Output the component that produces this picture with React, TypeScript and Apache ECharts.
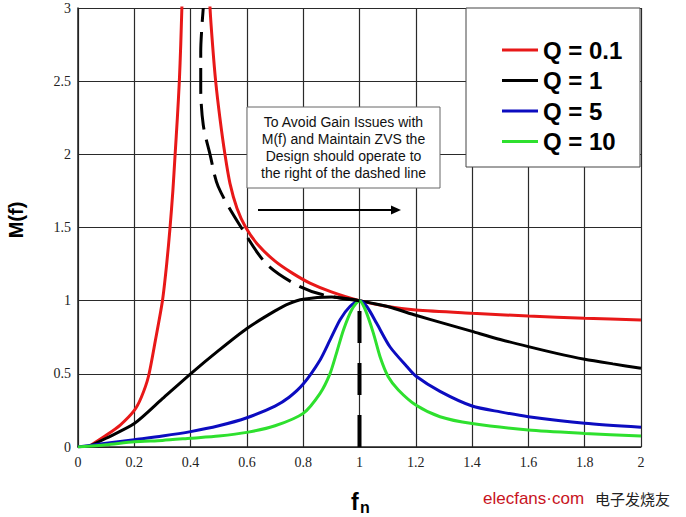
import React, { useEffect, useRef } from "react";
import * as echarts from "echarts";

// x tick labels (fn) and y tick labels (M(f))
const xTicks = [0, 0.2, 0.4, 0.6, 0.8, 1, 1.2, 1.4, 1.6, 1.8, 2];
const yTicks = [0, 0.5, 1, 1.5, 2, 2.5, 3];

const seriesNames = ["Q = 0.1", "Q = 1", "Q = 5", "Q = 10"];

// [fn, M(f)]
const q01: number[][] = [
  [0.04, 0.005], [0.1, 0.08], [0.15, 0.15], [0.2, 0.25], [0.225, 0.34], [0.25, 0.48],
  [0.275, 0.73], [0.3, 1.0], [0.315, 1.25], [0.327, 1.5], [0.337, 1.75], [0.345, 2.0],
  [0.353, 2.25], [0.36, 2.5], [0.365, 2.75], [0.369, 3.0], [0.38, 3.6], [0.455, 3.6],
  [0.469, 3.0], [0.478, 2.75], [0.489, 2.5], [0.504, 2.25], [0.522, 2.0], [0.54, 1.8],
  [0.565, 1.63], [0.596, 1.5], [0.64, 1.38], [0.7, 1.27], [0.76, 1.19], [0.824, 1.12],
  [0.9, 1.06], [1.0, 1.0], [1.1, 0.96], [1.2, 0.936], [1.4, 0.914], [1.6, 0.895],
  [1.8, 0.88], [2.0, 0.868],
];
const q1: number[][] = [
  [0.04, 0.005], [0.1, 0.06], [0.2, 0.16], [0.3, 0.33], [0.4, 0.5], [0.5, 0.66],
  [0.6, 0.81], [0.7, 0.93], [0.75, 0.98], [0.8, 1.01], [0.9, 1.025], [0.95, 1.015],
  [1.0, 1.0], [1.1, 0.96], [1.2, 0.9], [1.3, 0.845], [1.4, 0.79], [1.5, 0.735],
  [1.6, 0.686], [1.7, 0.64], [1.8, 0.6], [1.9, 0.568], [2.0, 0.538],
];
const q5: number[][] = [
  [0, 0], [0.1, 0.025], [0.2, 0.05], [0.3, 0.075], [0.4, 0.105], [0.5, 0.145],
  [0.6, 0.2], [0.7, 0.28], [0.75, 0.34], [0.8, 0.43], [0.86, 0.595], [0.895, 0.73],
  [0.931, 0.87], [0.966, 0.96], [1.0, 1.0], [1.026, 0.96], [1.061, 0.845], [1.108, 0.685],
  [1.168, 0.55], [1.2, 0.485], [1.286, 0.38], [1.4, 0.28], [1.5, 0.24], [1.6, 0.207],
  [1.8, 0.162], [2.0, 0.135],
];
const q10: number[][] = [
  [0, 0], [0.1, 0.015], [0.2, 0.036], [0.3, 0.045], [0.4, 0.06], [0.5, 0.075],
  [0.6, 0.1], [0.7, 0.145], [0.8, 0.23], [0.86, 0.367], [0.895, 0.5], [0.918, 0.64],
  [0.943, 0.8], [0.973, 0.94], [1.0, 1.0], [1.02, 0.94], [1.049, 0.78], [1.073, 0.617],
  [1.102, 0.48], [1.138, 0.39], [1.2, 0.287], [1.286, 0.207], [1.4, 0.16], [1.6, 0.116],
  [1.8, 0.093], [2.0, 0.075],
];
// dashed boundary curve (peak locus) and vertical dashed line at fn = 1
const boundary: number[][] = [
  [1.0, 1.0], [0.87, 1.04], [0.777, 1.107], [0.67, 1.25], [0.58, 1.5], [0.498, 1.78],
  [0.469, 2.0], [0.445, 2.2], [0.436, 2.45], [0.436, 2.7], [0.445, 3.0],
];
const fnOne: number[][] = [[1, 0], [1, 1]];

const colors = ["#e81818", "#000000", "#0c0cc0", "#2ee02e"];

const annotation = [
  "To Avoid Gain Issues with",
  "M(f) and Maintain ZVS the",
  "Design should operate to",
  "the right of the dashed line",
];

export default function App() {
  const ref = useRef<HTMLDivElement>(null);
  useEffect(() => {
    if (!ref.current) return;
    const chart = echarts.init(ref.current, undefined, { renderer: "svg" });
    const curveData = [q01, q1, q5, q10];
    const tickFont = {
      fontFamily: "Liberation Serif",
      fontSize: 14,
      color: "#222",
    };
    chart.setOption({
      animation: false,
      backgroundColor: "#ffffff",
      grid: { left: 78, right: 45, top: 8, bottom: 70 },
      xAxis: {
        type: "value",
        min: xTicks[0],
        max: xTicks[xTicks.length - 1],
        interval: 0.2,
        axisLine: { show: true, lineStyle: { color: "#222", width: 1.5 } },
        axisTick: { show: false },
        axisLabel: { ...tickFont, margin: 8 },
        splitLine: { show: true, lineStyle: { color: "#2a2a2a", width: 1.2 } },
      },
      yAxis: {
        type: "value",
        min: yTicks[0],
        max: yTicks[yTicks.length - 1],
        interval: 0.5,
        axisLine: { show: true, lineStyle: { color: "#222", width: 1.5 } },
        axisTick: { show: false },
        axisLabel: { ...tickFont, margin: 7 },
        splitLine: { show: true, lineStyle: { color: "#2a2a2a", width: 1.2 } },
      },
      legend: {
        orient: "vertical",
        left: 502,
        top: 38,
        padding: 0,
        itemWidth: 36,
        itemHeight: 3,
        itemGap: 6.5,
        icon: "rect",
        z: 10,
        textStyle: {
          fontFamily: "Liberation Sans",
          fontWeight: "bold",
          fontSize: 24,
          color: "#000",
        },
        data: seriesNames,
      },
      series: [
        ...curveData.map((d, i) => ({
          name: seriesNames[i],
          type: "line",
          data: d,
          showSymbol: false,
          symbol: "none",
          clip: true,
          smooth: 0.25,
          color: colors[i],
          itemStyle: { color: colors[i] },
          lineStyle: { color: colors[i], width: 3 },
          z: 3,
        })),
        {
          name: "boundary",
          type: "line",
          data: boundary,
          showSymbol: false,
          symbol: "none",
          clip: true,
          smooth: 0.3,
          lineStyle: { color: "#000", width: 3, type: [26, 10] },
          z: 4,
        },
        {
          name: "fn1",
          type: "line",
          data: fnOne,
          showSymbol: false,
          symbol: "none",
          lineStyle: { color: "#000", width: 4, type: [32, 20] },
          z: 4,
        },
      ],
      graphic: [
        {
          type: "rect",
          z: 5,
          shape: { x: 466, y: 8, width: 174, height: 159 },
          style: { fill: "#ffffff", stroke: "#444", lineWidth: 1 },
        },
        {
          type: "rect",
          z: 5,
          shape: { x: 247, y: 107, width: 193, height: 81 },
          style: { fill: "#ffffff", stroke: "#666", lineWidth: 1 },
        },
        {
          type: "text",
          z: 6,
          x: 343.5,
          y: 147.5,
          style: {
            text: annotation.join("\n"),
            fontFamily: "Liberation Sans",
            fontSize: 14,
            lineHeight: 17,
            fill: "#111",
            textAlign: "center",
            textVerticalAlign: "middle",
          },
        },
        {
          type: "line",
          z: 6,
          shape: { x1: 258, y1: 210, x2: 394, y2: 210 },
          style: { stroke: "#000", lineWidth: 2 },
        },
        {
          type: "polygon",
          z: 6,
          shape: { points: [[391, 205.5], [401, 210], [391, 214.5]] },
          style: { fill: "#000" },
        },
        {
          type: "text",
          z: 6,
          x: 15.5,
          y: 220,
          rotation: Math.PI / 2,
          style: {
            text: "M(f)",
            fontFamily: "Liberation Sans",
            fontWeight: "bold",
            fontSize: 20,
            fill: "#000",
            textAlign: "center",
            textVerticalAlign: "middle",
          },
        },
        {
          type: "text",
          z: 6,
          x: 351,
          y: 502,
          style: {
            text: "f",
            fontFamily: "Liberation Sans",
            fontWeight: "bold",
            fontSize: 23,
            fill: "#000",
            textAlign: "left",
            textVerticalAlign: "middle",
          },
        },
        {
          type: "text",
          z: 6,
          x: 360,
          y: 507,
          style: {
            text: "n",
            fontFamily: "Liberation Sans",
            fontWeight: "bold",
            fontSize: 16,
            fill: "#000",
            textAlign: "left",
            textVerticalAlign: "middle",
          },
        },
        {
          type: "text",
          z: 6,
          x: 483,
          y: 498,
          style: {
            text: "elecfans·com",
            fontFamily: "Liberation Sans",
            fontSize: 17,
            fill: "#c8141e",
            textAlign: "left",
            textVerticalAlign: "middle",
          },
        },
        {
          type: "text",
          z: 6,
          x: 595,
          y: 498,
          style: {
            text: "电子发烧友",
            fontFamily: "Noto Sans CJK SC",
            fontSize: 15,
            fill: "#222",
            textAlign: "left",
            textVerticalAlign: "middle",
          },
        },
      ],
    });
    return () => chart.dispose();
  }, []);
  return (
    <div
      ref={ref}
      style={{ position: "absolute", left: 0, top: 0, width: 686, height: 517, background: "#fff" }}
    />
  );
}
